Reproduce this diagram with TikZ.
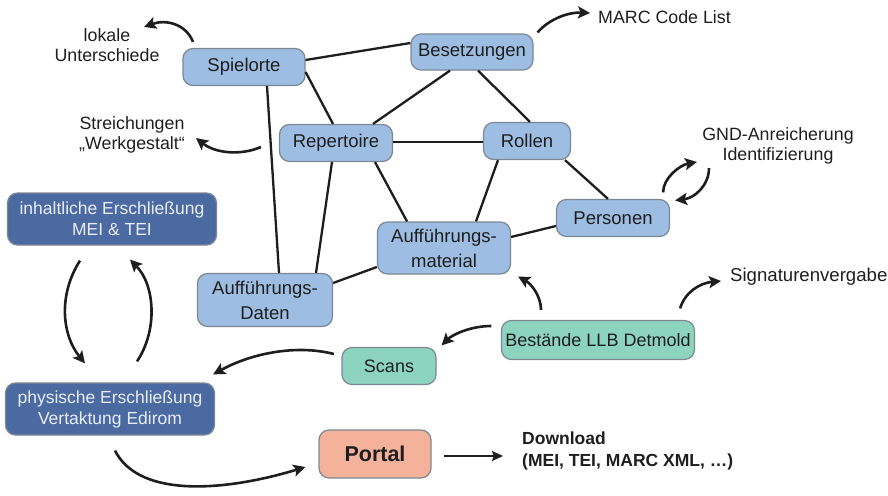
\documentclass[tikz,border=0pt]{standalone}
\usepackage{fontspec}
\setmainfont{Liberation Sans}
\usetikzlibrary{arrows.meta}
\definecolor{lblue}{RGB}{157,190,226}
\definecolor{dblue}{RGB}{76,106,162}
\definecolor{mint}{RGB}{141,212,190}
\definecolor{salmon}{RGB}{244,178,155}
\definecolor{bord}{RGB}{125,135,148}
\definecolor{dtext}{RGB}{232,238,248}
\definecolor{ink}{RGB}{30,30,30}
\begin{document}
\begin{tikzpicture}[x=1pt,y=-1pt,
  box/.style={draw=bord, line width=1.2pt, rounded corners=10pt, inner sep=0pt, align=center, text=ink},
  bluebox/.style={box, fill=lblue, font=\fontsize{18.5}{25}\selectfont},
  darkbox/.style={box, fill=dblue, text=dtext, font=\fontsize{17.5}{21}\selectfont},
  greenbox/.style={box, fill=mint, font=\fontsize{18}{22}\selectfont},
  note/.style={inner sep=0pt, align=center, text=ink, font=\fontsize{17.8}{20.5}\selectfont},
  link/.style={line width=2.3pt, ink},
  arr/.style={line width=2.6pt, ink, -{Stealth[length=12pt,width=12pt,inset=2.5pt]}},
  thinarr/.style={line width=2.2pt, ink, -{Stealth[length=11pt,width=10pt,inset=2pt]}}
]
\useasboundingbox (0,0) rectangle (888,495);

% nodes
\node[bluebox, minimum width=122pt, minimum height=37pt] (spiel) at (244,67) {Spielorte};
\node[bluebox, minimum width=122pt, minimum height=36pt] (beset) at (472,52) {Besetzungen};
\node[bluebox, minimum width=113pt, minimum height=37pt] (rep) at (336,143) {Repertoire};
\node[bluebox, minimum width=87pt, minimum height=37pt] (roll) at (527,141) {Rollen};
\node[bluebox, minimum width=113pt, minimum height=37pt] (pers) at (613,218) {Personen};
\node[bluebox, minimum width=133pt, minimum height=52pt] (mat) at (444,248) {Aufführungs-\\material};
\node[bluebox, minimum width=135pt, minimum height=53pt] (daten) at (265,300) {Aufführungs-\\Daten};
\node[darkbox, minimum width=209pt, minimum height=52pt] (inh) at (112,219) {inhaltliche Erschließung\\MEI \& TEI};
\node[darkbox, minimum width=209pt, minimum height=52pt] (phys) at (110,409) {physische Erschließung\\Vertaktung Edirom};
\node[greenbox, minimum width=94pt, minimum height=37pt] (scans) at (389,366) {Scans};
\node[greenbox, minimum width=193pt, minimum height=39pt] (best) at (598,340) {Bestände LLB Detmold};
\node[box, fill=salmon, minimum width=112pt, minimum height=48pt, font=\fontsize{21.5}{24}\selectfont\bfseries] (portal) at (375,454) {Portal};

% text labels
\node[note] (lokale) at (107,45) {lokale\\Unterschiede};
\node[note] (streich) at (132,135) {Streichungen\\„Werkgestalt“};
\node[note, anchor=west] (marc) at (598,17) {MARC Code List};
\node[note] (gnd) at (778,146) {GND-Anreicherung\\Identifizierung};
\node[note, anchor=west, font=\fontsize{18.6}{21}\selectfont] (sig) at (730,277) {Signaturenvergabe};
\node[note, anchor=north west, align=left, font=\fontsize{17.5}{22}\selectfont\bfseries] (down) at (522,432) {Download\\(MEI, TEI, MARC XML, …)};

% free ends
\coordinate (lokaleEnd) at (144,27);
\coordinate (streichEnd) at (196,138);
\coordinate (marcEnd) at (590,13);
\coordinate (gndEnd) at (697,162);
\coordinate (gndStart) at (709,168);
\coordinate (sigEnd) at (721,281);
\coordinate (downEnd) at (503,456);

% links
\draw[link] ([yshift=7pt]spiel.east) -- ([yshift=9pt]beset.west);
\draw[link] ([yshift=-5pt]spiel.east) -- ([xshift=-3pt]rep.north);
\draw[link] ([xshift=23pt]spiel.south) -- ([xshift=14pt]daten.north);
\draw[link] ([xshift=37pt]rep.north) -- ([xshift=-22pt]beset.south);
\draw[link] ([yshift=1pt]rep.east) -- ([yshift=-1pt]roll.west);
\draw[link] ([xshift=39pt]rep.south) -- ([xshift=-37pt]mat.north);
\draw[link] ([xshift=-4pt]rep.south) -- ([xshift=51pt]daten.north);
\draw[link] ([xshift=6pt]beset.south) -- ([xshift=3pt]roll.north);
\draw[link] ([xshift=-29pt]roll.south) -- ([xshift=32pt]mat.north);
\draw[link] ([xshift=38pt]roll.south) -- ([xshift=-5pt]pers.north);
\draw[link] ([yshift=-8pt]pers.west) -- ([yshift=11pt]mat.east);
\draw[link] ([yshift=-19pt]mat.west) -- ([yshift=17pt]daten.east);

% curved arrows
\draw[arr] ([xshift=-51pt,yshift=6pt]spiel.north) .. controls (186,24) and (166,19) .. (lokaleEnd);
\draw[arr] ([xshift=-18pt,yshift=-4pt]rep.west) .. controls (240,156) and (215,153) .. (streichEnd);
\draw[arr] ([xshift=4pt,yshift=1pt]beset.north east) .. controls (550,18) and (570,12) .. (marcEnd);
\draw[arr] ([xshift=-7pt,yshift=6.5pt]pers.north east) .. controls (663,178) and (680,165) .. (gndEnd);
\draw[arr] (gndStart) .. controls (709,185) and (695,198) .. ([xshift=5pt,yshift=-1.5pt]pers.north east);
\draw[arr] ([xshift=-57pt,yshift=10pt]best.north) .. controls (541,295) and (530,283) .. ([xshift=7pt,yshift=-2pt]mat.south east);
\draw[arr] ([xshift=-15pt,yshift=11.5pt]best.north east) .. controls (685,292) and (700,283) .. (sigEnd);
\draw[arr] ([xshift=-9.5pt,yshift=14pt]best.west) .. controls (470,326) and (452,335) .. ([xshift=5pt,yshift=1.5pt]scans.north east);
\draw[arr] ([xshift=-7.5pt,yshift=12pt]scans.west) .. controls (295,344) and (250,354) .. ([xshift=-2pt,yshift=8pt]phys.north east);
\draw[arr] ([xshift=-32pt,yshift=-15pt]inh.south) .. controls (58,295) and (62,335) .. ([xshift=-25pt,yshift=19pt]phys.north);
\draw[arr] ([xshift=27pt,yshift=21pt]phys.north) .. controls (158,330) and (155,285) .. ([xshift=18pt,yshift=-14pt]inh.south);
\draw[arr] ([xshift=5pt,yshift=-15pt]phys.south) .. controls (140,500) and (230,490) .. ([xshift=-13pt,yshift=-13pt]portal.west);
\draw[thinarr] ([xshift=12pt,yshift=-2pt]portal.east) -- (downEnd);
\end{tikzpicture}
\end{document}
